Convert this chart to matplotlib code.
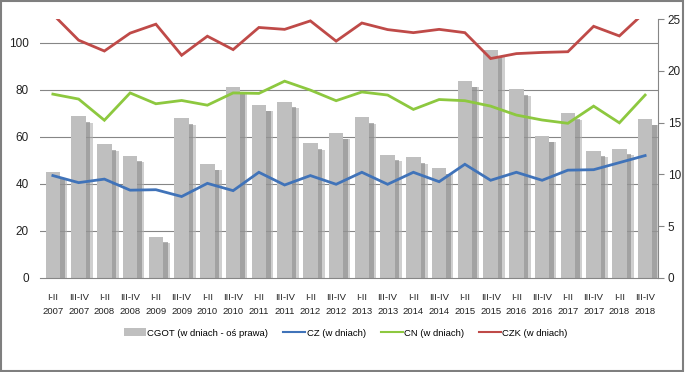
import matplotlib
matplotlib.use("Agg")
import matplotlib.pyplot as plt
import matplotlib.patheffects as pe
from matplotlib.patches import Patch, Rectangle
from matplotlib.lines import Line2D
import numpy as np

plt.rcParams['font.family'] = ['Liberation Sans Narrow', 'Liberation Sans', 'DejaVu Sans']

periods = ["I-II", "III-IV"] * 12
years = [str(y) for y in range(2007, 2019) for _ in range(2)]
labels = [f"{p}\n{y}" for p, y in zip(periods, years)]

cgot = [10.2, 15.6, 12.9, 11.8, 4.0, 15.4, 11.0, 18.4, 16.7, 17.0, 13.0, 14.0,
        15.5, 11.9, 11.65, 10.6, 19.0, 22.0, 18.2, 13.7, 15.9, 12.3, 12.5, 15.35]
cz = [43.5, 40.5, 42.0, 37.3, 37.5, 34.6, 40.2, 37.1, 44.9, 39.5, 43.5, 39.8,
      44.9, 39.8, 44.9, 40.9, 48.3, 41.5, 44.9, 41.5, 45.8, 46.0, 49.0, 52.0]
cn = [78.1, 76.0, 67.0, 78.6, 74.0, 75.4, 73.4, 78.6, 78.4, 83.6, 79.8, 75.3,
      79.0, 77.7, 71.6, 75.8, 75.3, 73.0, 69.2, 67.1, 65.7, 73.0, 65.9, 77.7]
czk = [112.0, 101.0, 96.4, 104.0, 107.8, 94.6, 102.7, 97.0, 106.4, 105.6, 109.2, 100.6,
       108.3, 105.5, 104.2, 105.6, 104.2, 93.2, 95.3, 95.8, 96.1, 106.9, 102.8, 113.0]

left_ticks = [0, 20, 40, 60, 80, 100]
right_ticks = [0, 5, 10, 15, 20, 25]
LEFT_MAX = 110
RIGHT_MAX = 25

BAR_C = '#bfbfbf'
BLUE = '#4073b9'
GREEN = '#8dc83f'
RED = '#bf4a48'
GRID = '#868686'

fig = plt.figure(figsize=(6.85, 3.72), dpi=100)
ax_b = fig.add_axes([40/685, 1-278/372, 618/685, 259/372])
ax_l = ax_b.twinx()
ax_l.yaxis.set_label_position('left')
ax_l.yaxis.tick_left()
ax_b.yaxis.tick_right()

x = np.arange(len(labels))

# gridlines (left-axis values) behind bars
for v in left_ticks[1:]:
    ax_b.axhline(v * RIGHT_MAX / LEFT_MAX, color=GRID, lw=0.8, zorder=0)

bars = ax_b.bar(x, cgot, width=0.56, color=BAR_C, zorder=2)
for b in bars:
    b.set_path_effects([
        pe.SimplePatchShadow(offset=(5.0, -4.5), shadow_rgbFace='#b0b0b0', alpha=0.6),
        pe.SimplePatchShadow(offset=(3.2, -4.0), shadow_rgbFace='#8a8a8a', alpha=0.65),
        pe.Normal()])

ax_b.set_ylim(0, RIGHT_MAX)
ax_b.set_xlim(-0.5, len(labels) - 0.5)
ax_b.set_yticks(right_ticks)
ax_b.tick_params(axis='y', direction='out', length=4, width=0.8, color=GRID,
                 labelsize=8.5, pad=3, labelcolor='#222222')
ax_b.set_xticks(x)
ax_b.set_xticklabels(labels, fontsize=6.8, color='#222222', linespacing=1.7)
ax_b.tick_params(axis='x', length=0, pad=11)
for s in ['top', 'left']:
    ax_b.spines[s].set_visible(False)
ax_b.spines['right'].set_color(GRID)
ax_b.spines['bottom'].set_color(GRID)
ax_b.spines['right'].set_linewidth(0.8)
ax_b.spines['bottom'].set_linewidth(0.8)

ax_l.plot(x, cz, color=BLUE, lw=2.0, solid_joinstyle='miter')
ax_l.plot(x, cn, color=GREEN, lw=2.0, solid_joinstyle='miter')
ax_l.plot(x, czk, color=RED, lw=2.0, solid_joinstyle='miter')
ax_l.set_ylim(0, LEFT_MAX)
ax_l.set_yticks(left_ticks)
ax_l.tick_params(axis='y', length=0, labelsize=8.5, pad=8, labelcolor='#222222')
for s in ['top', 'left', 'right', 'bottom']:
    ax_l.spines[s].set_visible(False)

handles = [Patch(facecolor=BAR_C, edgecolor='none'),
           Line2D([], [], color=BLUE, lw=1.5),
           Line2D([], [], color=GREEN, lw=1.5),
           Line2D([], [], color=RED, lw=1.5)]
names = ["CGOT (w dniach - oś prawa)", "CZ (w dniach)", "CN (w dniach)", "CZK (w dniach)"]
fig.legend(handles, names, loc='center', bbox_to_anchor=(0.505, 1-333/372), ncol=4,
           frameon=False, fontsize=6.8, handlelength=2.3, handletextpad=0.15,
           columnspacing=1.6, handleheight=0.9)

fig.patches.append(Rectangle((0.002, 0.003), 0.995, 0.994, transform=fig.transFigure,
                             fill=False, edgecolor='#7f7f7f', lw=1.5))

fig.savefig('out.png', dpi=100, facecolor='white')
